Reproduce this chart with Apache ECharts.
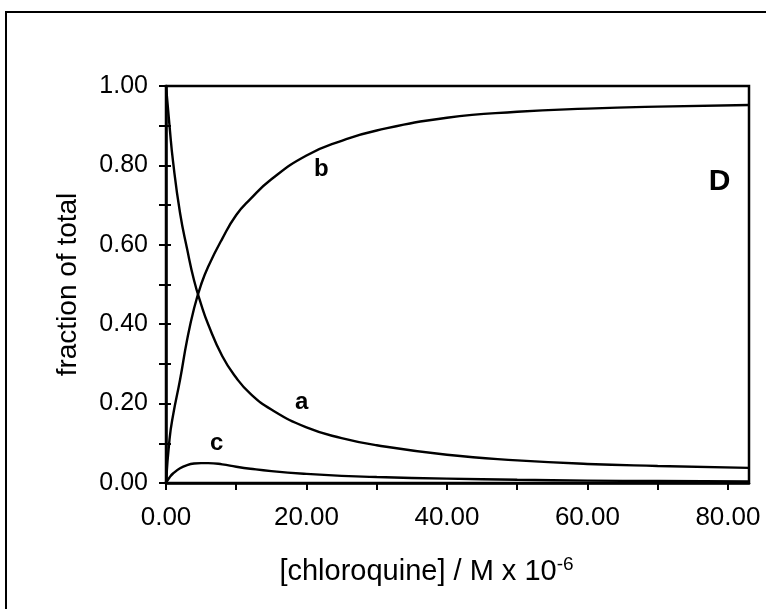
<!DOCTYPE html>
<html>
<head>
<meta charset="utf-8">
<script src="https://cdn.jsdelivr.net/npm/echarts@6/dist/echarts.min.js"></script>
<style>
  html, body { margin: 0; padding: 0; background: #fff; }
  #chart { width: 766px; height: 609px; }
</style>
</head>
<body>
<div id="chart"></div>
<script>
// Chloroquine concentration (x 10^-6 M)
const conc = [0, 0.5, 1, 2, 3, 4, 5, 6, 8, 10, 12, 15, 20, 25, 30, 40, 50, 60, 70, 83];
// a: free fraction
const fracA = [1.0, 0.90, 0.81, 0.68, 0.59, 0.51, 0.45, 0.40, 0.32, 0.265, 0.225, 0.185, 0.14, 0.113, 0.095, 0.071, 0.057, 0.048, 0.043, 0.038];
// b: bound fraction
const fracB = [0.0, 0.11, 0.17, 0.26, 0.36, 0.44, 0.50, 0.545, 0.615, 0.675, 0.715, 0.765, 0.825, 0.862, 0.888, 0.92, 0.935, 0.943, 0.948, 0.952];
// c: intermediate fraction
const fracC = [0.0, 0.014, 0.024, 0.037, 0.045, 0.049, 0.05, 0.05, 0.047, 0.041, 0.036, 0.03, 0.023, 0.018, 0.015, 0.011, 0.008, 0.006, 0.005, 0.004];

const xTicks = [0, 20, 40, 60, 80];
const yTicks = [0, 0.2, 0.4, 0.6, 0.8, 1.0];

// curve captions, placed in data coordinates
const curveNames = [
  { text: 'a', at: [19.3, 0.204] },
  { text: 'b', at: [22.1, 0.79] },
  { text: 'c', at: [7.2, 0.10] }
];
const panelTag = { text: 'D', at: [78.8, 0.76] };

const FONT = '"Liberation Sans", Arial, sans-serif';
const pairs = ys => conc.map((x, i) => [x, ys[i]]);

const chart = echarts.init(document.getElementById('chart'), null, { renderer: 'canvas' });

const lineSeries = (name, ys, extra) => Object.assign({
  name: name,
  type: 'line',
  data: pairs(ys),
  showSymbol: false,
  smooth: 0.5,
  lineStyle: { color: '#000', width: 2.4 },
  z: 3,
  animation: false
}, extra || {});

const captionPoint = (c, size) => ({
  coord: c.at,
  symbol: 'circle',
  symbolSize: 0,
  label: {
    show: true,
    formatter: c.text,
    position: 'inside',
    color: '#000',
    fontFamily: FONT,
    fontWeight: 'bold',
    fontSize: size
  }
});

chart.setOption({
  backgroundColor: '#fff',
  animation: false,
  graphic: [{
    type: 'rect',
    shape: { x: 6, y: 12, width: 800, height: 700 },
    style: { fill: 'none', stroke: '#000', lineWidth: 2 },
    silent: true
  }],
  grid: {
    left: 166, right: 17, top: 86, bottom: 126,
    show: true, borderColor: '#000', borderWidth: 2.5, backgroundColor: 'transparent'
  },
  xAxis: [{
    type: 'value',
    min: 0, max: 83, interval: 10,
    axisLine: { show: true, lineStyle: { color: '#000', width: 2.5 } },
    axisTick: { show: true, inside: false, length: 7, lineStyle: { color: '#000', width: 2 } },
    splitLine: { show: false },
    axisLabel: {
      margin: 22,
      showMaxLabel: false,
      color: '#000', fontFamily: FONT, fontSize: 26,
      formatter: v => xTicks.indexOf(v) >= 0 ? v.toFixed(2) : ''
    },
    name: '{base|[chloroquine] / M x 10}{sup|-6}',
    nameLocation: 'middle',
    nameGap: 72,
    nameTextStyle: {
      padding: [0, 62, 0, 0],
      rich: {
        base: { fontFamily: FONT, fontSize: 29, color: '#000' },
        sup: { fontFamily: FONT, fontSize: 19, color: '#000', padding: [0, 0, 15, 0] }
      }
    }
  }],
  yAxis: [{
    type: 'value',
    min: 0, max: 1, interval: 0.1,
    axisLine: { show: true, lineStyle: { color: '#000', width: 2.5 } },
    axisTick: { show: true, inside: false, length: 7, lineStyle: { color: '#000', width: 2 } },
    splitLine: { show: false },
    axisLabel: {
      margin: 18,
      color: '#000', fontFamily: FONT, fontSize: 25,
      formatter: v => yTicks.some(t => Math.abs(t - v) < 1e-6) ? v.toFixed(2) : ''
    },
    name: 'fraction of total',
    nameLocation: 'middle',
    nameGap: 84,
    nameTextStyle: { fontFamily: FONT, fontSize: 28, color: '#000' }
  }, {
    // inner half of the crossing ticks on the left axis
    type: 'value',
    position: 'left',
    min: 0, max: 1, interval: 0.1,
    axisLine: { show: false },
    axisTick: { show: true, inside: true, length: 5, lineStyle: { color: '#000', width: 2 } },
    axisLabel: { show: false },
    splitLine: { show: false }
  }],
  series: [
    lineSeries('a', fracA, {
      markPoint: { silent: true, data: curveNames.map(c => captionPoint(c, 24)).concat([captionPoint(panelTag, 30)]) }
    }),
    lineSeries('b', fracB),
    lineSeries('c', fracC)
  ]
});
</script>
</body>
</html>
